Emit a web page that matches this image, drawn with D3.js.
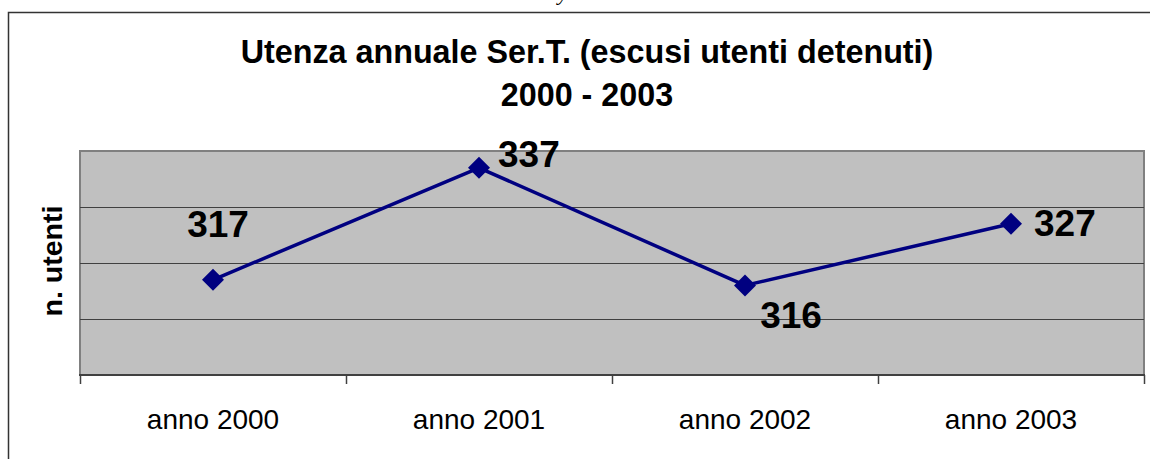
<!DOCTYPE html>
<html>
<head>
<meta charset="utf-8">
<script src="https://cdn.jsdelivr.net/npm/d3@7"></script>
<style>
  html, body { margin: 0; padding: 0; background: #fff; overflow: hidden; }
  svg { display: block; font-family: "Liberation Sans", Arial, sans-serif; }
</style>
</head>
<body>
<div id="chart"></div>
<script>
// data
const categories = ['anno 2000', 'anno 2001', 'anno 2002', 'anno 2003'];
const utenti = [317, 337, 316, 327];
const titleLines = ['Utenza annuale Ser.T. (escusi utenti detenuti)', '2000 - 2003'];
const yTitle = 'n. utenti';
const yDomain = [300, 340];

// label placement relative to the marker (dx, dy, anchor)
const labelPlacement = [
  { dx: 5, dy: -43, anchor: 'middle' },
  { dx: 19, dy: -1, anchor: 'start' },
  { dx: 46, dy: 43, anchor: 'middle' },
  { dx: 23, dy: 12, anchor: 'start' }
];

const width = 1150;
const height = 459;
const plot = { left: 80, right: 1144, top: 151, bottom: 375 };

const svg = d3.select('#chart')
  .append('svg')
  .attr('width', width)
  .attr('height', height);

// outer frame (runs off the page right and bottom)
svg.append('rect')
  .attr('x', 8.5)
  .attr('y', 12.5)
  .attr('width', width + 20)
  .attr('height', height + 20)
  .attr('fill', '#fff')
  .attr('stroke', '#333')
  .attr('stroke-width', 1.5);

// clipped glyph from the page text above the chart (cut off in the original too)
svg.append('text')
  .attr('x', 558)
  .attr('y', 0)
  .attr('font-family', '"Liberation Serif", serif')
  .attr('font-style', 'italic')
  .attr('font-size', 22)
  .attr('fill', '#000')
  .text('y');

const x = d3.scaleBand()
  .domain(categories)
  .range([plot.left, plot.right]);

const y = d3.scaleLinear()
  .domain(yDomain)
  .range([plot.bottom, plot.top]);

// plot background
svg.append('rect')
  .attr('x', plot.left)
  .attr('y', plot.top)
  .attr('width', plot.right - plot.left)
  .attr('height', plot.bottom - plot.top)
  .attr('fill', '#c0c0c0')
  .attr('stroke', '#808080')
  .attr('stroke-width', 2);

// gridlines
svg.append('g')
  .selectAll('line')
  .data(y.ticks(4).filter(d => d > yDomain[0] && d < yDomain[1]))
  .enter().append('line')
  .attr('x1', plot.left)
  .attr('x2', plot.right)
  .attr('y1', d => Math.round(y(d)) + 0.5)
  .attr('y2', d => Math.round(y(d)) + 0.5)
  .attr('stroke', '#404040')
  .attr('stroke-width', 1);

// x axis line + ticks between categories
svg.append('line')
  .attr('x1', plot.left - 1)
  .attr('x2', plot.right + 1)
  .attr('y1', plot.bottom)
  .attr('y2', plot.bottom)
  .attr('stroke', '#404040')
  .attr('stroke-width', 2);

const tickEdges = categories.map(c => x(c)).concat([x.range()[1]]);
svg.append('g')
  .selectAll('line')
  .data(tickEdges)
  .enter().append('line')
  .attr('x1', d => Math.round(d) + 0.5)
  .attr('x2', d => Math.round(d) + 0.5)
  .attr('y1', plot.bottom)
  .attr('y2', plot.bottom + 9)
  .attr('stroke', '#404040')
  .attr('stroke-width', 1.5);

// category labels
const xAxis = svg.append('g')
  .attr('transform', `translate(0,${plot.bottom})`)
  .call(d3.axisBottom(x).tickSize(0).tickPadding(0));
xAxis.select('.domain').remove();
xAxis.selectAll('text')
  .attr('dy', null)
  .attr('y', 54)
  .attr('font-family', '"Liberation Sans", Arial, sans-serif')
  .attr('font-size', 28)
  .attr('fill', '#000');

// y title
svg.append('text')
  .attr('transform', 'translate(62,261) rotate(-90)')
  .attr('text-anchor', 'middle')
  .attr('font-size', 28.5)
  .attr('font-weight', 'bold')
  .attr('fill', '#000')
  .text(yTitle);

// chart title
svg.append('g')
  .selectAll('text')
  .data(titleLines)
  .enter().append('text')
  .attr('x', 587)
  .attr('y', (d, i) => 63 + i * 43)
  .attr('text-anchor', 'middle')
  .attr('font-size', 32.3)
  .attr('font-weight', 'bold')
  .attr('fill', '#000')
  .text(d => d);

const cx = (d, i) => x(categories[i]) + x.bandwidth() / 2;

// series line
const line = d3.line()
  .x((d, i) => cx(d, i))
  .y(d => y(d));

svg.append('path')
  .datum(utenti)
  .attr('fill', 'none')
  .attr('stroke', '#000080')
  .attr('stroke-width', 3.5)
  .attr('stroke-linejoin', 'round')
  .attr('d', line);

// diamond markers
svg.append('g')
  .selectAll('path')
  .data(utenti)
  .enter().append('path')
  .attr('transform', (d, i) => `translate(${cx(d, i)},${y(d)})`)
  .attr('d', 'M0,-11L11,0L0,11L-11,0Z')
  .attr('fill', '#000080');

// value labels
svg.append('g')
  .selectAll('text')
  .data(utenti)
  .enter().append('text')
  .attr('x', (d, i) => cx(d, i) + labelPlacement[i].dx)
  .attr('y', (d, i) => y(d) + labelPlacement[i].dy)
  .attr('text-anchor', (d, i) => labelPlacement[i].anchor)
  .attr('font-size', 37)
  .attr('font-weight', 'bold')
  .attr('fill', '#000')
  .text(d => d);
</script>
</body>
</html>
